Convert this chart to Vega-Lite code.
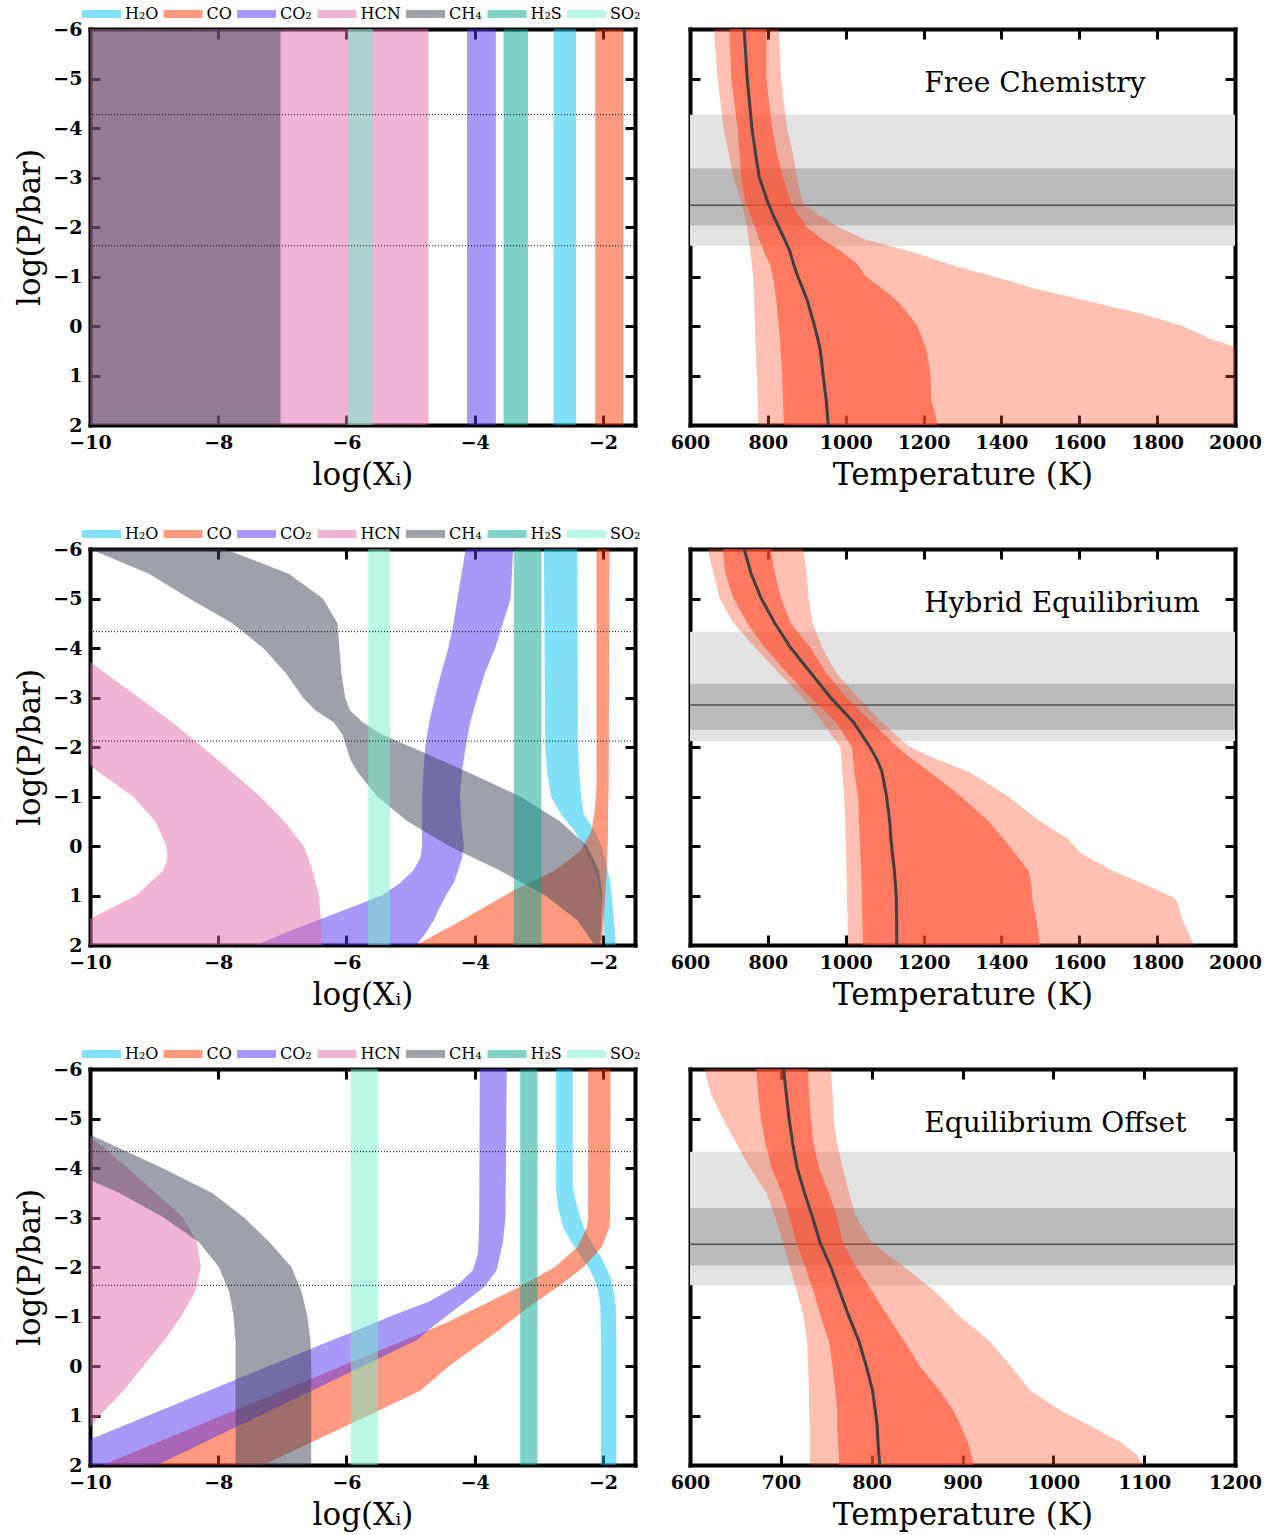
{
"$schema": "https://vega.github.io/schema/vega-lite/v6.json",
"padding": {"left": 14, "top": 6, "right": 4, "bottom": 4},
"background": "white",
"config": {
  "view": {"stroke": null},
  "font": "DejaVu Serif",
  "axis": {"domainColor": "black", "domainWidth": 4, "domainCap": "square", "tickColor": "black", "tickWidth": 3, "tickSize": -10, "labelFont": "DejaVu Serif", "labelFontSize": 19, "labelFontWeight": "bold", "labelColor": "black", "labelFlush": false, "labelOverlap": false, "titleFont": "DejaVu Serif", "titleFontSize": 31, "titleFontWeight": "normal", "titleColor": "black", "grid": false, "zindex": 1},
  "axisX": {"labelPadding": 18, "titlePadding": 8},
  "axisY": {"labelPadding": 18, "titlePadding": 6},
  "legend": {"labelFont": "DejaVu Serif", "labelFontSize": 16, "labelColor": "black", "symbolType": "M-2.4375,-0.5H2.4375V0.5H-2.4375Z", "symbolSize": 256, "symbolStrokeWidth": 0, "symbolOpacity": 0.5, "columnPadding": 4.5, "labelOffset": 15.5, "padding": 0}
},
"datasets": {
  "fc_bands": [
    {"sp":"H₂O","p":-6,"lo":-2.77,"hi":-2.42},{"sp":"H₂O","p":2,"lo":-2.77,"hi":-2.42},
    {"sp":"CO","p":-6,"lo":-2.12,"hi":-1.68},{"sp":"CO","p":2,"lo":-2.12,"hi":-1.68},
    {"sp":"CO₂","p":-6,"lo":-4.12,"hi":-3.67},{"sp":"CO₂","p":2,"lo":-4.12,"hi":-3.67},
    {"sp":"HCN","p":-6,"lo":-10.5,"hi":-4.72},{"sp":"HCN","p":2,"lo":-10.5,"hi":-4.72},
    {"sp":"CH₄","p":-6,"lo":-10.5,"hi":-7.03},{"sp":"CH₄","p":2,"lo":-10.5,"hi":-7.03},
    {"sp":"H₂S","p":-6,"lo":-3.55,"hi":-3.17},{"sp":"H₂S","p":2,"lo":-3.55,"hi":-3.17},
    {"sp":"SO₂","p":-6,"lo":-5.98,"hi":-5.59},{"sp":"SO₂","p":2,"lo":-5.98,"hi":-5.59}
  ],
  "he_bands": [
    {"sp":"H₂O","p":-6,"lo":-2.92,"hi":-2.40},{"sp":"H₂O","p":-2,"lo":-2.90,"hi":-2.39},{"sp":"H₂O","p":-1.5,"lo":-2.87,"hi":-2.37},{"sp":"H₂O","p":-1,"lo":-2.81,"hi":-2.34},{"sp":"H₂O","p":-0.65,"lo":-2.66,"hi":-2.30},{"sp":"H₂O","p":-0.32,"lo":-2.45,"hi":-2.14},{"sp":"H₂O","p":0,"lo":-2.30,"hi":-2.02},{"sp":"H₂O","p":0.36,"lo":-2.17,"hi":-1.95},{"sp":"H₂O","p":0.7,"lo":-2.08,"hi":-1.89},{"sp":"H₂O","p":1.03,"lo":-2.03,"hi":-1.86},{"sp":"H₂O","p":1.5,"lo":-1.99,"hi":-1.83},{"sp":"H₂O","p":2,"lo":-1.97,"hi":-1.80},
    {"sp":"CO","p":-6,"lo":-2.10,"hi":-1.90},{"sp":"CO","p":-1.2,"lo":-2.10,"hi":-1.91},{"sp":"CO","p":-0.7,"lo":-2.13,"hi":-1.92},{"sp":"CO","p":-0.3,"lo":-2.18,"hi":-1.92},{"sp":"CO","p":0.1,"lo":-2.35,"hi":-1.93},{"sp":"CO","p":0.5,"lo":-2.75,"hi":-1.94},{"sp":"CO","p":0.9,"lo":-3.40,"hi":-1.96},{"sp":"CO","p":1.5,"lo":-4.20,"hi":-1.99},{"sp":"CO","p":2,"lo":-4.91,"hi":-2.01},
    {"sp":"CO₂","p":-6,"lo":-4.14,"hi":-3.40},{"sp":"CO₂","p":-5,"lo":-4.27,"hi":-3.44},{"sp":"CO₂","p":-4.5,"lo":-4.33,"hi":-3.56},{"sp":"CO₂","p":-4,"lo":-4.41,"hi":-3.68},{"sp":"CO₂","p":-3.5,"lo":-4.52,"hi":-3.84},{"sp":"CO₂","p":-3,"lo":-4.62,"hi":-3.96},{"sp":"CO₂","p":-2.5,"lo":-4.71,"hi":-4.07},{"sp":"CO₂","p":-2,"lo":-4.77,"hi":-4.14},{"sp":"CO₂","p":-1.5,"lo":-4.80,"hi":-4.20},{"sp":"CO₂","p":-1,"lo":-4.82,"hi":-4.23},{"sp":"CO₂","p":-0.5,"lo":-4.82,"hi":-4.21},{"sp":"CO₂","p":0,"lo":-4.82,"hi":-4.17},{"sp":"CO₂","p":0.25,"lo":-4.85,"hi":-4.20},{"sp":"CO₂","p":0.5,"lo":-4.96,"hi":-4.26},{"sp":"CO₂","p":0.75,"lo":-5.17,"hi":-4.33},{"sp":"CO₂","p":1,"lo":-5.45,"hi":-4.45},{"sp":"CO₂","p":1.25,"lo":-5.95,"hi":-4.55},{"sp":"CO₂","p":1.5,"lo":-6.45,"hi":-4.64},{"sp":"CO₂","p":1.75,"lo":-6.95,"hi":-4.76},{"sp":"CO₂","p":2,"lo":-7.40,"hi":-4.91},
    {"sp":"HCN","p":-3.72,"lo":-10.5,"hi":-10},{"sp":"HCN","p":-3.5,"lo":-10.5,"hi":-9.77},{"sp":"HCN","p":-3,"lo":-10.5,"hi":-9.24},{"sp":"HCN","p":-2.5,"lo":-10.5,"hi":-8.72},{"sp":"HCN","p":-2,"lo":-10.3,"hi":-8.25},{"sp":"HCN","p":-1.63,"lo":-10,"hi":-7.91},{"sp":"HCN","p":-1.5,"lo":-9.87,"hi":-7.79},{"sp":"HCN","p":-1,"lo":-9.33,"hi":-7.35},{"sp":"HCN","p":-0.5,"lo":-8.98,"hi":-6.97},{"sp":"HCN","p":0,"lo":-8.81,"hi":-6.67},{"sp":"HCN","p":0.25,"lo":-8.79,"hi":-6.59},{"sp":"HCN","p":0.5,"lo":-8.86,"hi":-6.53},{"sp":"HCN","p":1,"lo":-9.28,"hi":-6.43},{"sp":"HCN","p":1.47,"lo":-10,"hi":-6.40},{"sp":"HCN","p":1.75,"lo":-10.4,"hi":-6.39},{"sp":"HCN","p":2,"lo":-10.8,"hi":-6.38},
    {"sp":"CH₄","p":-6,"lo":-10.0,"hi":-7.9},{"sp":"CH₄","p":-5.5,"lo":-9.08,"hi":-6.90},{"sp":"CH₄","p":-5,"lo":-8.45,"hi":-6.37},{"sp":"CH₄","p":-4.5,"lo":-7.78,"hi":-6.14},{"sp":"CH₄","p":-4,"lo":-7.30,"hi":-6.11},{"sp":"CH₄","p":-3.5,"lo":-6.95,"hi":-6.08},{"sp":"CH₄","p":-3,"lo":-6.68,"hi":-6.02},{"sp":"CH₄","p":-2.75,"lo":-6.49,"hi":-5.95},{"sp":"CH₄","p":-2.5,"lo":-6.20,"hi":-5.75},{"sp":"CH₄","p":-2.25,"lo":-6.06,"hi":-5.44},{"sp":"CH₄","p":-2,"lo":-6.00,"hi":-4.99},{"sp":"CH₄","p":-1.75,"lo":-5.94,"hi":-4.55},{"sp":"CH₄","p":-1.5,"lo":-5.83,"hi":-4.12},{"sp":"CH₄","p":-1,"lo":-5.52,"hi":-3.29},{"sp":"CH₄","p":-0.5,"lo":-5.05,"hi":-2.67},{"sp":"CH₄","p":0,"lo":-4.40,"hi":-2.25},{"sp":"CH₄","p":0.5,"lo":-3.60,"hi":-2.06},{"sp":"CH₄","p":1,"lo":-2.90,"hi":-2.01},{"sp":"CH₄","p":1.5,"lo":-2.40,"hi":-2.02},{"sp":"CH₄","p":2,"lo":-2.13,"hi":-2.04},
    {"sp":"H₂S","p":-6,"lo":-3.39,"hi":-2.96},{"sp":"H₂S","p":2,"lo":-3.39,"hi":-2.96},
    {"sp":"SO₂","p":-6,"lo":-5.66,"hi":-5.32},{"sp":"SO₂","p":2,"lo":-5.66,"hi":-5.32}
  ],
  "eo_bands": [
    {"sp":"H₂O","p":-6,"lo":-2.73,"hi":-2.47},{"sp":"H₂O","p":-3.6,"lo":-2.73,"hi":-2.47},{"sp":"H₂O","p":-3.2,"lo":-2.70,"hi":-2.40},{"sp":"H₂O","p":-2.8,"lo":-2.62,"hi":-2.30},{"sp":"H₂O","p":-2.5,"lo":-2.49,"hi":-2.18},{"sp":"H₂O","p":-2.2,"lo":-2.34,"hi":-2.03},{"sp":"H₂O","p":-2,"lo":-2.23,"hi":-1.95},{"sp":"H₂O","p":-1.75,"lo":-2.13,"hi":-1.87},{"sp":"H₂O","p":-1.5,"lo":-2.07,"hi":-1.83},{"sp":"H₂O","p":-1.2,"lo":-2.04,"hi":-1.80},{"sp":"H₂O","p":-0.5,"lo":-2.03,"hi":-1.79},{"sp":"H₂O","p":2,"lo":-2.03,"hi":-1.79},
    {"sp":"CO","p":-6,"lo":-2.23,"hi":-1.88},{"sp":"CO","p":-3,"lo":-2.23,"hi":-1.89},{"sp":"CO","p":-2.8,"lo":-2.25,"hi":-1.90},{"sp":"CO","p":-2.4,"lo":-2.40,"hi":-2.02},{"sp":"CO","p":-2,"lo":-2.75,"hi":-2.30},{"sp":"CO","p":-1.6,"lo":-3.30,"hi":-2.70},{"sp":"CO","p":-1.25,"lo":-3.85,"hi":-3.10},{"sp":"CO","p":-0.9,"lo":-4.40,"hi":-3.45},{"sp":"CO","p":-0.63,"lo":-4.89,"hi":-3.72},{"sp":"CO","p":0,"lo":-6.07,"hi":-4.40},{"sp":"CO","p":0.5,"lo":-7.00,"hi":-4.85},{"sp":"CO","p":1,"lo":-7.94,"hi":-5.66},{"sp":"CO","p":1.5,"lo":-8.87,"hi":-6.48},{"sp":"CO","p":2,"lo":-9.80,"hi":-7.30},
    {"sp":"CO₂","p":-6,"lo":-3.92,"hi":-3.50},{"sp":"CO₂","p":-3,"lo":-3.93,"hi":-3.52},{"sp":"CO₂","p":-2.5,"lo":-3.94,"hi":-3.56},{"sp":"CO₂","p":-2.27,"lo":-3.95,"hi":-3.60},{"sp":"CO₂","p":-1.93,"lo":-4.03,"hi":-3.66},{"sp":"CO₂","p":-1.6,"lo":-4.30,"hi":-3.85},{"sp":"CO₂","p":-1.3,"lo":-4.72,"hi":-4.15},{"sp":"CO₂","p":-1,"lo":-5.32,"hi":-4.45},{"sp":"CO₂","p":-0.75,"lo":-5.79,"hi":-4.70},{"sp":"CO₂","p":-0.53,"lo":-6.21,"hi":-4.89},{"sp":"CO₂","p":0,"lo":-7.21,"hi":-5.74},{"sp":"CO₂","p":0.5,"lo":-8.15,"hi":-6.54},{"sp":"CO₂","p":1,"lo":-9.09,"hi":-7.35},{"sp":"CO₂","p":1.5,"lo":-10.03,"hi":-8.15},{"sp":"CO₂","p":2,"lo":-10.98,"hi":-8.95},
    {"sp":"HCN","p":-4.64,"lo":-11,"hi":-10},{"sp":"HCN","p":-4,"lo":-11,"hi":-9.42},{"sp":"HCN","p":-3.5,"lo":-11,"hi":-8.98},{"sp":"HCN","p":-3,"lo":-11,"hi":-8.55},{"sp":"HCN","p":-2.5,"lo":-11,"hi":-8.33},{"sp":"HCN","p":-2,"lo":-11,"hi":-8.27},{"sp":"HCN","p":-1.5,"lo":-11,"hi":-8.36},{"sp":"HCN","p":-1,"lo":-11,"hi":-8.58},{"sp":"HCN","p":-0.5,"lo":-11,"hi":-8.85},{"sp":"HCN","p":0,"lo":-11,"hi":-9.17},{"sp":"HCN","p":0.5,"lo":-11,"hi":-9.48},{"sp":"HCN","p":1,"lo":-11,"hi":-9.85},{"sp":"HCN","p":1.24,"lo":-11,"hi":-10},
    {"sp":"CH₄","p":-4.67,"lo":-11.5,"hi":-10.0},{"sp":"CH₄","p":-4.5,"lo":-11.3,"hi":-9.71},{"sp":"CH₄","p":-4,"lo":-10.6,"hi":-8.87},{"sp":"CH₄","p":-3.76,"lo":-10.0,"hi":-8.50},{"sp":"CH₄","p":-3.5,"lo":-9.55,"hi":-8.10},{"sp":"CH₄","p":-3,"lo":-8.85,"hi":-7.60},{"sp":"CH₄","p":-2.5,"lo":-8.30,"hi":-7.20},{"sp":"CH₄","p":-2,"lo":-7.99,"hi":-6.86},{"sp":"CH₄","p":-1.5,"lo":-7.83,"hi":-6.70},{"sp":"CH₄","p":-1,"lo":-7.76,"hi":-6.61},{"sp":"CH₄","p":-0.5,"lo":-7.73,"hi":-6.56},{"sp":"CH₄","p":0,"lo":-7.73,"hi":-6.55},{"sp":"CH₄","p":2,"lo":-7.73,"hi":-6.55},
    {"sp":"H₂S","p":-6,"lo":-3.29,"hi":-3.02},{"sp":"H₂S","p":2,"lo":-3.29,"hi":-3.02},
    {"sp":"SO₂","p":-6,"lo":-5.93,"hi":-5.51},{"sp":"SO₂","p":2,"lo":-5.93,"hi":-5.51}
  ],
  "fc_lvl": [{"kind":"light","lo":-4.27,"hi":-1.62},{"kind":"dark","lo":-3.18,"hi":-2.03},{"kind":"line","lo":-2.44,"hi":-2.44}],
  "he_lvl": [{"kind":"light","lo":-4.33,"hi":-2.12},{"kind":"dark","lo":-3.28,"hi":-2.35},{"kind":"line","lo":-2.85,"hi":-2.85}],
  "eo_lvl": [{"kind":"light","lo":-4.33,"hi":-1.63},{"kind":"dark","lo":-3.19,"hi":-2.03},{"kind":"line","lo":-2.46,"hi":-2.46}],
  "fc_tp": [
    {"p":-6,"l2":661,"l1":701,"med":739,"h1":796,"h2":828},
    {"p":-5,"l2":671,"l1":706,"med":747,"h1":796,"h2":834},
    {"p":-4,"l2":686,"l1":722,"med":759,"h1":811,"h2":849},
    {"p":-3.5,"l2":699,"l1":727,"med":768,"h1":823,"h2":864},
    {"p":-3,"l2":712,"l1":732,"med":778,"h1":839,"h2":874},
    {"p":-2.5,"l2":732,"l1":742,"med":800,"h1":859,"h2":889},
    {"p":-2.25,"l2":740,"l1":755,"med":813,"h1":878,"h2":930},
    {"p":-2,"l2":747,"l1":767,"med":828,"h1":900,"h2":981},
    {"p":-1.75,"l2":751,"l1":778,"med":843,"h1":940,"h2":1050},
    {"p":-1.5,"l2":755,"l1":790,"med":857,"h1":990,"h2":1170},
    {"p":-1.25,"l2":759,"l1":805,"med":866,"h1":1030,"h2":1265},
    {"p":-1,"l2":762,"l1":813,"med":877,"h1":1052,"h2":1380},
    {"p":-0.75,"l2":764,"l1":818,"med":890,"h1":1095,"h2":1490},
    {"p":-0.5,"l2":765,"l1":822,"med":902,"h1":1133,"h2":1625},
    {"p":-0.25,"l2":766,"l1":825,"med":911,"h1":1160,"h2":1760},
    {"p":0,"l2":767,"l1":828,"med":920,"h1":1184,"h2":1865},
    {"p":0.25,"l2":768,"l1":831,"med":928,"h1":1197,"h2":1935},
    {"p":0.5,"l2":769,"l1":833,"med":935,"h1":1208,"h2":2030},
    {"p":1,"l2":772,"l1":837,"med":942,"h1":1218,"h2":2100},
    {"p":1.5,"l2":774,"l1":839,"med":950,"h1":1220,"h2":2150},
    {"p":2,"l2":775,"l1":841,"med":955,"h1":1237,"h2":2200}
  ],
  "he_tp": [
    {"p":-6,"l2":645,"l1":684,"med":739,"h1":808,"h2":891},
    {"p":-5.5,"l2":661,"l1":691,"med":757,"h1":818,"h2":900},
    {"p":-5,"l2":676,"l1":712,"med":783,"h1":834,"h2":905},
    {"p":-4.5,"l2":712,"l1":747,"med":818,"h1":859,"h2":915},
    {"p":-4,"l2":768,"l1":793,"med":859,"h1":910,"h2":940},
    {"p":-3.5,"l2":828,"l1":849,"med":910,"h1":950,"h2":976},
    {"p":-3,"l2":889,"l1":910,"med":961,"h1":1001,"h2":1032},
    {"p":-2.5,"l2":940,"l1":975,"med":1020,"h1":1066,"h2":1092},
    {"p":-2,"l2":986,"l1":1016,"med":1062,"h1":1133,"h2":1164},
    {"p":-1.75,"l2":989,"l1":1019,"med":1080,"h1":1172,"h2":1235},
    {"p":-1.5,"l2":991,"l1":1022,"med":1093,"h1":1215,"h2":1316},
    {"p":-1,"l2":996,"l1":1032,"med":1105,"h1":1296,"h2":1418},
    {"p":-0.5,"l2":999,"l1":1034,"med":1113,"h1":1367,"h2":1499},
    {"p":-0.15,"l2":1000,"l1":1036,"med":1116,"h1":1405,"h2":1570},
    {"p":0.15,"l2":1001,"l1":1038,"med":1120,"h1":1435,"h2":1605},
    {"p":0.5,"l2":1002,"l1":1040,"med":1125,"h1":1470,"h2":1685},
    {"p":0.8,"l2":1003,"l1":1041,"med":1128,"h1":1477,"h2":1774},
    {"p":1.05,"l2":1003,"l1":1042,"med":1130,"h1":1479,"h2":1845},
    {"p":1.2,"l2":1004,"l1":1042,"med":1130,"h1":1482,"h2":1855},
    {"p":1.5,"l2":1005,"l1":1043,"med":1131,"h1":1490,"h2":1865},
    {"p":1.75,"l2":1005,"l1":1044,"med":1131,"h1":1495,"h2":1880},
    {"p":2,"l2":1006,"l1":1044,"med":1131,"h1":1499,"h2":1896}
  ],
  "eo_tp": [
    {"p":-6,"l2":616,"l1":673,"med":703,"h1":730,"h2":755},
    {"p":-5.5,"l2":623,"l1":675,"med":706,"h1":731,"h2":757},
    {"p":-5,"l2":636,"l1":678,"med":709,"h1":733,"h2":758},
    {"p":-4.5,"l2":651,"l1":683,"med":713,"h1":736,"h2":762},
    {"p":-4,"l2":666,"l1":690,"med":718,"h1":742,"h2":768},
    {"p":-3.5,"l2":684,"l1":701,"med":726,"h1":753,"h2":775},
    {"p":-3,"l2":694,"l1":710,"med":735,"h1":762,"h2":783},
    {"p":-2.5,"l2":702,"l1":717,"med":743,"h1":768,"h2":800},
    {"p":-2,"l2":710,"l1":727,"med":755,"h1":783,"h2":836},
    {"p":-1.5,"l2":718,"l1":736,"med":765,"h1":801,"h2":870},
    {"p":-1,"l2":725,"l1":744,"med":775,"h1":818,"h2":897},
    {"p":-0.5,"l2":729,"l1":753,"med":786,"h1":836,"h2":930},
    {"p":0,"l2":730,"l1":757,"med":794,"h1":853,"h2":953},
    {"p":0.5,"l2":731,"l1":760,"med":801,"h1":875,"h2":975},
    {"p":0.9,"l2":731,"l1":762,"med":804,"h1":890,"h2":1008},
    {"p":1.2,"l2":732,"l1":762,"med":806,"h1":898,"h2":1040},
    {"p":1.55,"l2":732,"l1":763,"med":807,"h1":906,"h2":1075},
    {"p":1.8,"l2":732,"l1":764,"med":808,"h1":910,"h2":1092},
    {"p":2,"l2":732,"l1":764,"med":809,"h1":912,"h2":1099}
  ]
},
"spacing": 520,
"bounds": "flush",
"resolve": {"scale": {"color": "independent"}, "legend": {"color": "independent"}},
"vconcat": [
 {"hconcat": [
  {"width": 545, "height": 396, "resolve": {"axis": {"x": "independent", "y": "independent"}},
   "layer": [
    {"data": {"name": "fc_bands"}, "mark": {"type": "area", "orient": "horizontal", "opacity": 0.5, "clip": true},
     "encoding": {
      "y": {"field": "p", "type": "quantitative", "scale": {"domain": [-6, 2], "reverse": true, "nice": false, "zero": false}, "axis": {"orient": "left", "title": "log(P/bar)", "values": [-6,-5,-4,-3,-2,-1,0,1,2], "format": "d"}},
      "x": {"field": "lo", "type": "quantitative", "scale": {"domain": [-10, -1.5], "nice": false, "zero": false}, "axis": {"orient": "bottom", "title": "log(Xᵢ)", "values": [-10,-8,-6,-4,-2], "format": "d"}},
      "x2": {"field": "hi"},
      "color": {"field": "sp", "type": "nominal", "scale": {"domain": ["H₂O","CO","CO₂","HCN","CH₄","H₂S","SO₂"], "range": ["#01c3f1","#fd3501","#5131f1","#e169a9","#3d4155","#01a591","#71f1c9"]}, "legend": {"orient": "none", "legendX": 3.5, "legendY": -23, "direction": "horizontal", "title": null}}
     }},
    {"data": {"values": [{"p": -4.27}, {"p": -1.62}]}, "mark": {"type": "rule", "color": "black", "strokeWidth": 1, "strokeDash": [1, 2]},
     "encoding": {
      "y": {"field": "p", "type": "quantitative", "scale": {"domain": [-6, 2], "reverse": true, "nice": false, "zero": false}, "axis": {"orient": "right", "labels": false, "title": null, "values": [-5,-4,-3,-2,-1,0,1]}},
      "x": {"datum": -10, "type": "quantitative", "scale": {"domain": [-10, -1.5], "nice": false, "zero": false}, "axis": {"orient": "top", "labels": false, "title": null, "values": [-8,-6,-4,-2]}},
      "x2": {"datum": -1.5}
     }}
   ]},
  {"width": 545, "height": 396, "resolve": {"axis": {"x": "independent", "y": "independent"}},
   "layer": [
    {"data": {"name": "fc_lvl"}, "transform": [{"filter": "datum.kind !== 'line'"}], "mark": {"type": "rect"},
     "encoding": {
      "y": {"field": "lo", "type": "quantitative", "scale": {"domain": [-6, 2], "reverse": true, "nice": false, "zero": false}, "axis": {"orient": "left", "labels": false, "title": null, "values": [-5,-4,-3,-2,-1,0,1]}},
      "y2": {"field": "hi"},
      "color": {"condition": {"test": "datum.kind === 'light'", "value": "#e3e3e3"}, "value": "#bbbbbb"}
     }},
    {"data": {"name": "fc_lvl"}, "transform": [{"filter": "datum.kind === 'line'"}], "mark": {"type": "rule", "color": "#505050", "strokeWidth": 1.5},
     "encoding": {"y": {"field": "lo", "type": "quantitative", "scale": {"domain": [-6, 2], "reverse": true, "nice": false, "zero": false}, "axis": null}}},
    {"data": {"name": "fc_tp"}, "mark": {"type": "area", "orient": "horizontal", "color": "#ff4b29", "opacity": 0.35, "clip": true},
     "encoding": {
      "y": {"field": "p", "type": "quantitative", "scale": {"domain": [-6, 2], "reverse": true, "nice": false, "zero": false}, "axis": null},
      "x": {"field": "l2", "type": "quantitative", "scale": {"domain": [600, 2000], "nice": false, "zero": false}, "axis": {"orient": "bottom", "title": "Temperature (K)", "values": [600,800,1000,1200,1400,1600,1800,2000], "format": "d"}},
      "x2": {"field": "h2"}
     }},
    {"data": {"name": "fc_tp"}, "mark": {"type": "area", "orient": "horizontal", "color": "#ff4b29", "opacity": 0.6, "clip": true},
     "encoding": {
      "y": {"field": "p", "type": "quantitative", "scale": {"domain": [-6, 2], "reverse": true, "nice": false, "zero": false}, "axis": null},
      "x": {"field": "l1", "type": "quantitative", "scale": {"domain": [600, 2000], "nice": false, "zero": false}, "axis": null},
      "x2": {"field": "h1"}
     }},
    {"data": {"name": "fc_tp"}, "mark": {"type": "line", "color": "#404040", "strokeWidth": 3, "clip": true},
     "encoding": {
      "y": {"field": "p", "type": "quantitative", "scale": {"domain": [-6, 2], "reverse": true, "nice": false, "zero": false}, "axis": {"orient": "right", "labels": false, "title": null, "values": [-5,-4,-3,-2,-1,0,1]}},
      "x": {"field": "med", "type": "quantitative", "scale": {"domain": [600, 2000], "nice": false, "zero": false}, "axis": {"orient": "top", "labels": false, "title": null, "values": [800,1000,1200,1400,1600,1800]}},
      "order": {"field": "p"}
     }},
    {"data": {"values": [{"T": 1202, "p": -4.89, "label": "Free Chemistry"}]}, "mark": {"type": "text", "align": "left", "baseline": "middle", "fontSize": 28, "font": "DejaVu Serif", "color": "black"},
     "encoding": {
      "x": {"field": "T", "type": "quantitative", "scale": {"domain": [600, 2000], "nice": false, "zero": false}, "axis": null},
      "y": {"field": "p", "type": "quantitative", "scale": {"domain": [-6, 2], "reverse": true, "nice": false, "zero": false}, "axis": null},
      "text": {"field": "label"}
     }}
   ]}
 ], "spacing": 55, "bounds": "flush", "resolve": {"scale": {"color": "independent"}, "legend": {"color": "independent"}}},
 {"hconcat": [
  {"width": 545, "height": 396, "resolve": {"axis": {"x": "independent", "y": "independent"}},
   "layer": [
    {"data": {"name": "he_bands"}, "mark": {"type": "area", "orient": "horizontal", "opacity": 0.5, "clip": true},
     "encoding": {
      "y": {"field": "p", "type": "quantitative", "scale": {"domain": [-6, 2], "reverse": true, "nice": false, "zero": false}, "axis": {"orient": "left", "title": "log(P/bar)", "values": [-6,-5,-4,-3,-2,-1,0,1,2], "format": "d"}},
      "x": {"field": "lo", "type": "quantitative", "scale": {"domain": [-10, -1.5], "nice": false, "zero": false}, "axis": {"orient": "bottom", "title": "log(Xᵢ)", "values": [-10,-8,-6,-4,-2], "format": "d"}},
      "x2": {"field": "hi"},
      "color": {"field": "sp", "type": "nominal", "scale": {"domain": ["H₂O","CO","CO₂","HCN","CH₄","H₂S","SO₂"], "range": ["#01c3f1","#fd3501","#5131f1","#e169a9","#3d4155","#01a591","#71f1c9"]}, "legend": {"orient": "none", "legendX": 3.5, "legendY": -23, "direction": "horizontal", "title": null}}
     }},
    {"data": {"values": [{"p": -4.33}, {"p": -2.12}]}, "mark": {"type": "rule", "color": "black", "strokeWidth": 1, "strokeDash": [1, 2]},
     "encoding": {
      "y": {"field": "p", "type": "quantitative", "scale": {"domain": [-6, 2], "reverse": true, "nice": false, "zero": false}, "axis": {"orient": "right", "labels": false, "title": null, "values": [-5,-4,-3,-2,-1,0,1]}},
      "x": {"datum": -10, "type": "quantitative", "scale": {"domain": [-10, -1.5], "nice": false, "zero": false}, "axis": {"orient": "top", "labels": false, "title": null, "values": [-8,-6,-4,-2]}},
      "x2": {"datum": -1.5}
     }}
   ]},
  {"width": 545, "height": 396, "resolve": {"axis": {"x": "independent", "y": "independent"}},
   "layer": [
    {"data": {"name": "he_lvl"}, "transform": [{"filter": "datum.kind !== 'line'"}], "mark": {"type": "rect"},
     "encoding": {
      "y": {"field": "lo", "type": "quantitative", "scale": {"domain": [-6, 2], "reverse": true, "nice": false, "zero": false}, "axis": {"orient": "left", "labels": false, "title": null, "values": [-5,-4,-3,-2,-1,0,1]}},
      "y2": {"field": "hi"},
      "color": {"condition": {"test": "datum.kind === 'light'", "value": "#e3e3e3"}, "value": "#bbbbbb"}
     }},
    {"data": {"name": "he_lvl"}, "transform": [{"filter": "datum.kind === 'line'"}], "mark": {"type": "rule", "color": "#505050", "strokeWidth": 1.5},
     "encoding": {"y": {"field": "lo", "type": "quantitative", "scale": {"domain": [-6, 2], "reverse": true, "nice": false, "zero": false}, "axis": null}}},
    {"data": {"name": "he_tp"}, "mark": {"type": "area", "orient": "horizontal", "color": "#ff4b29", "opacity": 0.35, "clip": true},
     "encoding": {
      "y": {"field": "p", "type": "quantitative", "scale": {"domain": [-6, 2], "reverse": true, "nice": false, "zero": false}, "axis": null},
      "x": {"field": "l2", "type": "quantitative", "scale": {"domain": [600, 2000], "nice": false, "zero": false}, "axis": {"orient": "bottom", "title": "Temperature (K)", "values": [600,800,1000,1200,1400,1600,1800,2000], "format": "d"}},
      "x2": {"field": "h2"}
     }},
    {"data": {"name": "he_tp"}, "mark": {"type": "area", "orient": "horizontal", "color": "#ff4b29", "opacity": 0.6, "clip": true},
     "encoding": {
      "y": {"field": "p", "type": "quantitative", "scale": {"domain": [-6, 2], "reverse": true, "nice": false, "zero": false}, "axis": null},
      "x": {"field": "l1", "type": "quantitative", "scale": {"domain": [600, 2000], "nice": false, "zero": false}, "axis": null},
      "x2": {"field": "h1"}
     }},
    {"data": {"name": "he_tp"}, "mark": {"type": "line", "color": "#404040", "strokeWidth": 3, "clip": true},
     "encoding": {
      "y": {"field": "p", "type": "quantitative", "scale": {"domain": [-6, 2], "reverse": true, "nice": false, "zero": false}, "axis": {"orient": "right", "labels": false, "title": null, "values": [-5,-4,-3,-2,-1,0,1]}},
      "x": {"field": "med", "type": "quantitative", "scale": {"domain": [600, 2000], "nice": false, "zero": false}, "axis": {"orient": "top", "labels": false, "title": null, "values": [800,1000,1200,1400,1600,1800]}},
      "order": {"field": "p"}
     }},
    {"data": {"values": [{"T": 1202, "p": -4.89, "label": "Hybrid Equilibrium"}]}, "mark": {"type": "text", "align": "left", "baseline": "middle", "fontSize": 28, "font": "DejaVu Serif", "color": "black"},
     "encoding": {
      "x": {"field": "T", "type": "quantitative", "scale": {"domain": [600, 2000], "nice": false, "zero": false}, "axis": null},
      "y": {"field": "p", "type": "quantitative", "scale": {"domain": [-6, 2], "reverse": true, "nice": false, "zero": false}, "axis": null},
      "text": {"field": "label"}
     }}
   ]}
 ], "spacing": 55, "bounds": "flush", "resolve": {"scale": {"color": "independent"}, "legend": {"color": "independent"}}},
 {"hconcat": [
  {"width": 545, "height": 396, "resolve": {"axis": {"x": "independent", "y": "independent"}},
   "layer": [
    {"data": {"name": "eo_bands"}, "mark": {"type": "area", "orient": "horizontal", "opacity": 0.5, "clip": true},
     "encoding": {
      "y": {"field": "p", "type": "quantitative", "scale": {"domain": [-6, 2], "reverse": true, "nice": false, "zero": false}, "axis": {"orient": "left", "title": "log(P/bar)", "values": [-6,-5,-4,-3,-2,-1,0,1,2], "format": "d"}},
      "x": {"field": "lo", "type": "quantitative", "scale": {"domain": [-10, -1.5], "nice": false, "zero": false}, "axis": {"orient": "bottom", "title": "log(Xᵢ)", "values": [-10,-8,-6,-4,-2], "format": "d"}},
      "x2": {"field": "hi"},
      "color": {"field": "sp", "type": "nominal", "scale": {"domain": ["H₂O","CO","CO₂","HCN","CH₄","H₂S","SO₂"], "range": ["#01c3f1","#fd3501","#5131f1","#e169a9","#3d4155","#01a591","#71f1c9"]}, "legend": {"orient": "none", "legendX": 3.5, "legendY": -23, "direction": "horizontal", "title": null}}
     }},
    {"data": {"values": [{"p": -4.33}, {"p": -1.63}]}, "mark": {"type": "rule", "color": "black", "strokeWidth": 1, "strokeDash": [1, 2]},
     "encoding": {
      "y": {"field": "p", "type": "quantitative", "scale": {"domain": [-6, 2], "reverse": true, "nice": false, "zero": false}, "axis": {"orient": "right", "labels": false, "title": null, "values": [-5,-4,-3,-2,-1,0,1]}},
      "x": {"datum": -10, "type": "quantitative", "scale": {"domain": [-10, -1.5], "nice": false, "zero": false}, "axis": {"orient": "top", "labels": false, "title": null, "values": [-8,-6,-4,-2]}},
      "x2": {"datum": -1.5}
     }}
   ]},
  {"width": 545, "height": 396, "resolve": {"axis": {"x": "independent", "y": "independent"}},
   "layer": [
    {"data": {"name": "eo_lvl"}, "transform": [{"filter": "datum.kind !== 'line'"}], "mark": {"type": "rect"},
     "encoding": {
      "y": {"field": "lo", "type": "quantitative", "scale": {"domain": [-6, 2], "reverse": true, "nice": false, "zero": false}, "axis": {"orient": "left", "labels": false, "title": null, "values": [-5,-4,-3,-2,-1,0,1]}},
      "y2": {"field": "hi"},
      "color": {"condition": {"test": "datum.kind === 'light'", "value": "#e3e3e3"}, "value": "#bbbbbb"}
     }},
    {"data": {"name": "eo_lvl"}, "transform": [{"filter": "datum.kind === 'line'"}], "mark": {"type": "rule", "color": "#505050", "strokeWidth": 1.5},
     "encoding": {"y": {"field": "lo", "type": "quantitative", "scale": {"domain": [-6, 2], "reverse": true, "nice": false, "zero": false}, "axis": null}}},
    {"data": {"name": "eo_tp"}, "mark": {"type": "area", "orient": "horizontal", "color": "#ff4b29", "opacity": 0.35, "clip": true},
     "encoding": {
      "y": {"field": "p", "type": "quantitative", "scale": {"domain": [-6, 2], "reverse": true, "nice": false, "zero": false}, "axis": null},
      "x": {"field": "l2", "type": "quantitative", "scale": {"domain": [600, 1200], "nice": false, "zero": false}, "axis": {"orient": "bottom", "title": "Temperature (K)", "values": [600,700,800,900,1000,1100,1200], "format": "d"}},
      "x2": {"field": "h2"}
     }},
    {"data": {"name": "eo_tp"}, "mark": {"type": "area", "orient": "horizontal", "color": "#ff4b29", "opacity": 0.6, "clip": true},
     "encoding": {
      "y": {"field": "p", "type": "quantitative", "scale": {"domain": [-6, 2], "reverse": true, "nice": false, "zero": false}, "axis": null},
      "x": {"field": "l1", "type": "quantitative", "scale": {"domain": [600, 1200], "nice": false, "zero": false}, "axis": null},
      "x2": {"field": "h1"}
     }},
    {"data": {"name": "eo_tp"}, "mark": {"type": "line", "color": "#404040", "strokeWidth": 3, "clip": true},
     "encoding": {
      "y": {"field": "p", "type": "quantitative", "scale": {"domain": [-6, 2], "reverse": true, "nice": false, "zero": false}, "axis": {"orient": "right", "labels": false, "title": null, "values": [-5,-4,-3,-2,-1,0,1]}},
      "x": {"field": "med", "type": "quantitative", "scale": {"domain": [600, 1200], "nice": false, "zero": false}, "axis": {"orient": "top", "labels": false, "title": null, "values": [700,800,900,1000,1100]}},
      "order": {"field": "p"}
     }},
    {"data": {"values": [{"T": 858, "p": -4.89, "label": "Equilibrium Offset"}]}, "mark": {"type": "text", "align": "left", "baseline": "middle", "fontSize": 28, "font": "DejaVu Serif", "color": "black"},
     "encoding": {
      "x": {"field": "T", "type": "quantitative", "scale": {"domain": [600, 1200], "nice": false, "zero": false}, "axis": null},
      "y": {"field": "p", "type": "quantitative", "scale": {"domain": [-6, 2], "reverse": true, "nice": false, "zero": false}, "axis": null},
      "text": {"field": "label"}
     }}
   ]}
 ], "spacing": 55, "bounds": "flush", "resolve": {"scale": {"color": "independent"}, "legend": {"color": "independent"}}}
]
}
